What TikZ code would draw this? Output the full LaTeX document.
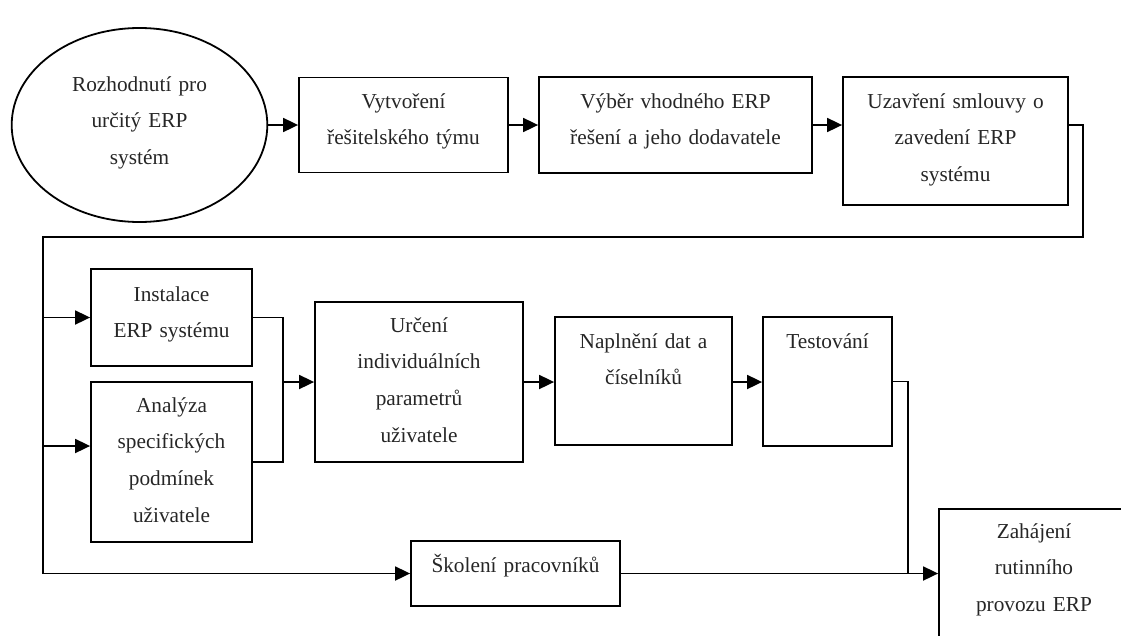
\documentclass[tikz,border=0pt]{standalone}
\usepackage{fontspec}
\setmainfont{Liberation Serif}
\usetikzlibrary{arrows.meta,shapes.geometric}

\begin{document}
\begin{tikzpicture}[x=1pt,y=-1pt,
  line width=1.8pt,
  box/.style={draw, rectangle, inner sep=0pt},
  oval/.style={draw, ellipse, inner sep=0pt},
  caption/.style={anchor=base, align=center, text width=260pt, inner sep=0pt,
    text=black!85, font=\fontsize{21.3}{36.8}\selectfont},
  arr/.style={-{Triangle[length=15pt,width=14pt]}},
  wire/.style={line join=miter},
]
\clip (0,0) rectangle (1121,635);

% --- shapes ---
\node[oval, minimum width=255.6pt, minimum height=194pt] (rozhodnuti) at (139.5,125) {};
\node[box, minimum width=209pt, minimum height=95pt]  (vytvoreni) at (403.5,125) {};
\node[box, minimum width=273pt, minimum height=96pt]  (vyber)     at (675.5,125) {};
\node[box, minimum width=225pt, minimum height=128pt] (uzavreni)  at (955.5,141) {};
\node[box, minimum width=161pt, minimum height=97pt]  (instalace) at (171.5,317.5) {};
\node[box, minimum width=161pt, minimum height=160pt] (analyza)   at (171.5,462) {};
\node[box, minimum width=208pt, minimum height=160pt] (urceni)    at (419,382) {};
\node[box, minimum width=177pt, minimum height=128pt] (naplneni)  at (643.5,381) {};
\node[box, minimum width=129pt, minimum height=129pt] (testovani) at (827.5,381.5) {};
\node[box, minimum width=209pt, minimum height=65pt]  (skoleni)   at (515.5,573.5) {};
\node[box, minimum width=190pt, minimum height=160pt] (zahajeni)  at (1034,589) {};

% --- texts ---
\node[caption] (rozhodnuti-t) at (139.5,91)  {Rozhodnutí pro\\určitý ERP\\systém};
\node[caption] (vytvoreni-t)  at (403.5,108) {Vytvoření\\řešitelského týmu};
\node[caption] (vyber-t)      at (675.5,108) {Výběr vhodného ERP\\řešení a jeho dodavatele};
\node[caption] (uzavreni-t)   at (955.5,108) {Uzavření smlouvy o\\zavedení ERP\\systému};
\node[caption] (instalace-t)  at (171.5,301) {Instalace\\ERP systému};
\node[caption] (analyza-t)    at (171.5,412) {Analýza\\specifických\\podmínek\\uživatele};
\node[caption] (urceni-t)     at (419,332)   {Určení\\individuálních\\parametrů\\uživatele};
\node[caption] (naplneni-t)   at (643.5,348) {Naplnění dat a\\číselníků};
\node[caption] (testovani-t)  at (827.5,348) {Testování};
\node[caption] (skoleni-t)    at (515.5,572) {Školení pracovníků};
\node[caption] (zahajeni-t)   at (1034,538)  {Zahájení\\rutinního\\provozu ERP};

% --- routing points ---
\coordinate (loopR) at (1083,237);
\coordinate (busTop) at (43,237);
\coordinate (merge) at (283,382);
\coordinate (testDrop) at (908,573.5);

% --- top row ---
\draw[arr] (rozhodnuti.east) -- (vytvoreni.west);
\draw[arr] (vytvoreni.east) -- (vyber.west);
\draw[arr] (vyber.east) -- (vyber.east -| uzavreni.west);

% --- return line and left bus ---
\draw[wire] (vyber.east -| uzavreni.east) -- (vyber.east -| loopR) -- (loopR)
  -- (busTop) -- (busTop |- skoleni.west);
\draw[arr] (busTop |- instalace.west) -- (instalace.west);
\draw[arr] (busTop |- 0,446) -- (analyza.west |- 0,446);
\draw[arr] (busTop |- skoleni.west) -- (skoleni.west);

% --- merge into Určení ---
\draw[wire] (instalace.east) -- (instalace.east -| merge) -- (analyza.east -| merge) -- (analyza.east);
\draw[arr] (merge) -- (urceni.west);

% --- middle row ---
\draw[arr] (urceni.east) -- (urceni.east -| naplneni.west);
\draw[arr] (naplneni.east |- urceni.east) -- (urceni.east -| testovani.west);
\draw[wire] (testovani.east) -- (testovani.east -| testDrop) -- (testDrop);

% --- into Zahájení ---
\draw[arr] (skoleni.east) -- (skoleni.east -| zahajeni.west);
\end{tikzpicture}
\end{document}
